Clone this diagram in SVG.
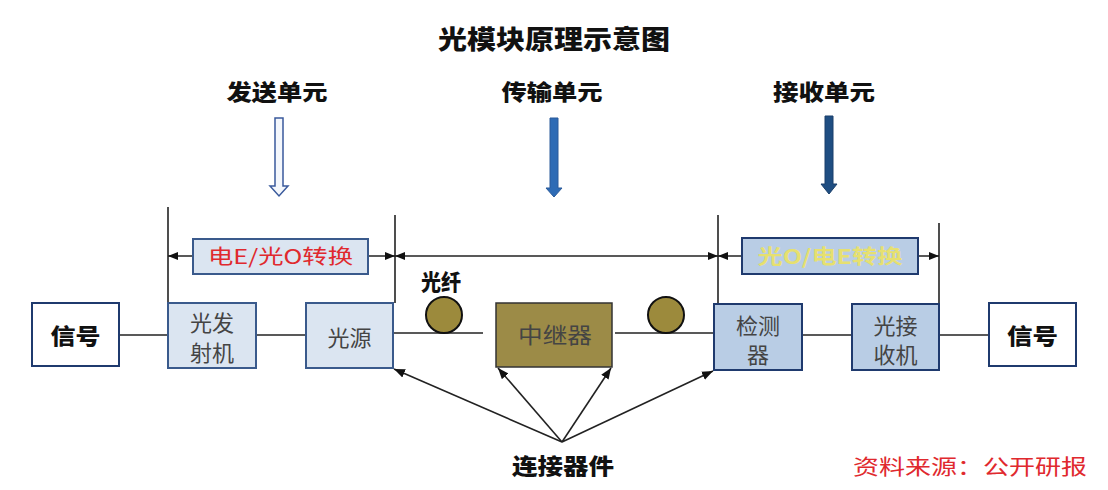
<svg xmlns="http://www.w3.org/2000/svg" width="1108" height="490" viewBox="0 0 1108 490">
<defs>
<marker id="ah" viewBox="0 0 10 10" refX="10" refY="5" markerWidth="10" markerHeight="10" markerUnits="userSpaceOnUse" orient="auto-start-reverse">
<path d="M0,1 L10,5 L0,9 z" fill="#111"/>
</marker>
<marker id="ah2" viewBox="0 0 10 10" refX="10" refY="5" markerWidth="11" markerHeight="11" markerUnits="userSpaceOnUse" orient="auto">
<path d="M0,1 L10,5 L0,9 z" fill="#111"/>
</marker>
<style>
.cjk{font-family:"Noto Sans CJK SC","Noto Sans",sans-serif}
.hd{font-family:"Noto Sans CJK SC",sans-serif;font-weight:900;font-size:22px;fill:#111}
.bx{font-family:"Noto Sans CJK SC",sans-serif;font-size:22px;fill:#444}
.ln{stroke:#222;stroke-width:1.6;fill:none}
.vl{stroke:#222;stroke-width:1.6}
.lb{fill:#dbe5f1;stroke:#3a5a8c;stroke-width:2}
.db{fill:#b9cde5;stroke:#1f3a6e;stroke-width:2}
.wb{fill:#fff;stroke:#1f3a6e;stroke-width:2}
.fib{fill:#9c8a3c;stroke:#111;stroke-width:2}
</style>
</defs>
<rect width="1108" height="490" fill="#fff"/>
<text x="554" y="49" text-anchor="middle" class="cjk" font-size="26" font-weight="900" fill="#111" textLength="232" lengthAdjust="spacingAndGlyphs">光模块原理示意图</text>

<g id="labels">
<text x="277" y="100" text-anchor="middle" class="hd" textLength="101" lengthAdjust="spacingAndGlyphs">发送单元</text>
<text x="552" y="100" text-anchor="middle" class="hd" textLength="101" lengthAdjust="spacingAndGlyphs">传输单元</text>
<text x="824" y="100" text-anchor="middle" class="hd" textLength="102" lengthAdjust="spacingAndGlyphs">接收单元</text>
</g>

<g id="big-arrows">
<path d="M275,118 L283,118 L283,186 L288,186 L279,196 L270,186 L275,186 z" fill="#f4f7fc" stroke="#3a5a9c" stroke-width="1.5"/>
<path d="M550,118 L558,118 L558,188 L562,188 L554,197 L546,188 L550,188 z" fill="#2e6bb5" stroke="#2a5a9a" stroke-width="1"/>
<path d="M825,116 L833,116 L833,184 L837,184 L829,194 L821,184 L825,184 z" fill="#1f4e82" stroke="#1a3f6a" stroke-width="1"/>
</g>

<g id="connectors">
<line class="vl" x1="168" y1="207" x2="168" y2="303"/>
<line class="vl" x1="395" y1="215" x2="395" y2="303"/>
<line class="vl" x1="718" y1="215" x2="718" y2="304"/>
<line class="vl" x1="939" y1="223" x2="939" y2="304"/>
<line class="ln" x1="168" y1="256" x2="395" y2="256" marker-start="url(#ah)" marker-end="url(#ah)"/>
<line class="ln" x1="395" y1="256" x2="718" y2="256" marker-start="url(#ah)" marker-end="url(#ah)"/>
<line class="ln" x1="718" y1="256" x2="939" y2="256" marker-start="url(#ah)" marker-end="url(#ah)"/>
<line class="ln" x1="119" y1="335" x2="168" y2="335"/>
<line class="ln" x1="256" y1="335" x2="306" y2="335"/>
<line class="ln" x1="393" y1="333" x2="483" y2="333"/>
<line class="ln" x1="615" y1="333" x2="714" y2="333"/>
<line class="ln" x1="802" y1="335" x2="852" y2="335"/>
<line class="ln" x1="939" y1="335" x2="989" y2="335"/>
<line class="ln" x1="562" y1="442" x2="394" y2="369" marker-end="url(#ah2)"/>
<line class="ln" x1="562" y1="442" x2="498" y2="368" marker-end="url(#ah2)"/>
<line class="ln" x1="562" y1="442" x2="611" y2="368" marker-end="url(#ah2)"/>
<line class="ln" x1="562" y1="442" x2="713" y2="371" marker-end="url(#ah2)"/>
</g>

<g id="eo-box">
<rect x="193" y="239" width="175" height="35" class="lb"/>
<text x="280.5" y="264" text-anchor="middle" class="cjk" font-size="20" fill="#e0292e" textLength="145" lengthAdjust="spacingAndGlyphs">电E/光O转换</text>
</g>
<g id="oe-box">
<rect x="742" y="238" width="176" height="36" class="db"/>
<text x="830" y="264" text-anchor="middle" class="cjk" font-size="20" font-weight="700" fill="#e6e070" textLength="145" lengthAdjust="spacingAndGlyphs">光O/电E转换</text>
</g>

<g id="signal-left">
<rect x="32" y="303" width="87" height="63" class="wb"/>
<text x="75.5" y="344" text-anchor="middle" class="hd" textLength="50" lengthAdjust="spacingAndGlyphs">信号</text>
</g>
<g id="transmitter">
<rect x="168" y="303" width="88" height="65" class="lb"/>
<text x="212" y="331" text-anchor="middle" class="bx" fill="#555">光发</text>
<text x="212" y="361" text-anchor="middle" class="bx" fill="#555">射机</text>
</g>
<g id="source">
<rect x="306" y="303" width="87" height="65" class="lb"/>
<text x="349.5" y="346" text-anchor="middle" class="bx" fill="#555">光源</text>
</g>
<g id="fiber1">
<circle cx="444" cy="315" r="18" class="fib"/>
</g>
<text x="441" y="290" text-anchor="middle" class="hd" font-size="18" textLength="40" lengthAdjust="spacingAndGlyphs">光纤</text>
<g id="repeater">
<rect x="496" y="303" width="116" height="64" fill="#9c8b47" stroke="#333" stroke-width="1.5"/>
<text x="555" y="343" text-anchor="middle" class="bx" font-size="23" fill="#222" textLength="74" lengthAdjust="spacingAndGlyphs">中继器</text>
</g>
<g id="fiber2">
<circle cx="666" cy="315" r="18" class="fib"/>
</g>
<g id="detector">
<rect x="714" y="304" width="88" height="66" class="db"/>
<text x="758" y="334" text-anchor="middle" class="bx" fill="#333">检测</text>
<text x="758" y="363" text-anchor="middle" class="bx" fill="#333">器</text>
</g>
<g id="receiver">
<rect x="852" y="304" width="87" height="66" class="db"/>
<text x="895.5" y="334" text-anchor="middle" class="bx" fill="#333">光接</text>
<text x="895.5" y="363" text-anchor="middle" class="bx" fill="#333">收机</text>
</g>
<g id="signal-right">
<rect x="989" y="303" width="87" height="63" class="wb"/>
<text x="1032.5" y="344" text-anchor="middle" class="hd" textLength="51" lengthAdjust="spacingAndGlyphs">信号</text>
</g>
<g id="connector-label">
<text x="563" y="474" text-anchor="middle" class="hd" textLength="102" lengthAdjust="spacingAndGlyphs">连接器件</text>
</g>
<text x="970" y="474" text-anchor="middle" class="cjk" font-size="21" fill="#e0292e" textLength="234" lengthAdjust="spacingAndGlyphs">资料来源：公开研报</text>
</svg>
